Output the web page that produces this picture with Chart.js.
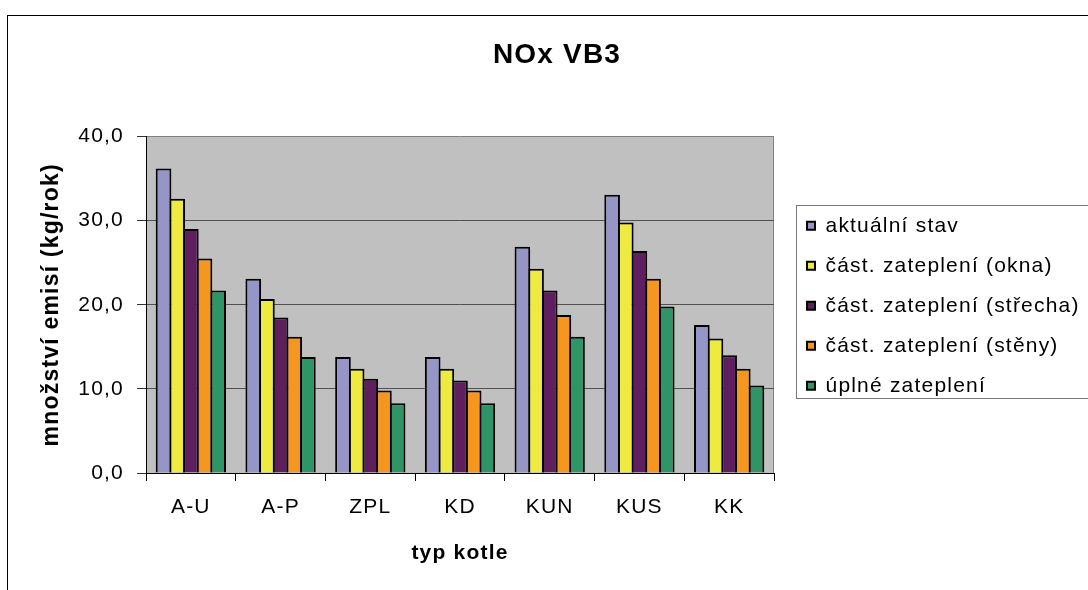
<!DOCTYPE html>
<html>
<head>
<meta charset="utf-8">
<style>
  html, body { margin: 0; padding: 0; background: #fff; }
  canvas { display: block; }
</style>
</head>
<body>
<canvas id="chart" width="1088" height="590"></canvas>
<script src="https://cdn.jsdelivr.net/npm/chart.js"></script>
<script>
// data
const categories = ['A-U', 'A-P', 'ZPL', 'KD', 'KUN', 'KUS', 'KK'];
const seriesNames = ['aktuální stav', 'část. zateplení (okna)', 'část. zateplení (střecha)', 'část. zateplení (stěny)', 'úplné zateplení'];
const aktualniStav = [36.2, 23.1, 13.8, 13.8, 26.9, 33.1, 17.6];
const zatepleniOkna = [32.6, 20.7, 12.4, 12.4, 24.3, 29.8, 16.0];
const zatepleniStrecha = [29.0, 18.5, 11.2, 11.0, 21.7, 26.4, 14.0];
const zatepleniSteny = [25.5, 16.2, 9.8, 9.8, 18.8, 23.1, 12.4];
const uplneZatepleni = [21.7, 13.8, 8.3, 8.3, 16.2, 19.8, 10.4];
const yTickLabels = ['0,0', '10,0', '20,0', '30,0', '40,0'];

const seriesValues = [aktualniStav, zatepleniOkna, zatepleniStrecha, zatepleniSteny, uplneZatepleni];
const seriesColors = ['#9595C8', '#EEEA40', '#5F1F5F', '#F5961F', '#2F9566'];

const FONT = 'Arial, "Liberation Sans", sans-serif';
const LEGEND_W = 340;

// plot background, outer frame, legend frame
const decor = {
    id: 'decor',
    beforeLayout(chart) {
        chart.ctx.letterSpacing = '1.2px';
        const lg = chart.legend;
        if (lg && !lg._fixedW) {
            const orig = lg.fit.bind(lg);
            lg.fit = function () { orig(); this.width = LEGEND_W; };
            lg._fixedW = true;
        }
    },
    afterLayout(chart) {
        const lg = chart.legend;
        lg.left += 14; lg.right += 14;
        lg.top += 1; lg.bottom += 1;
    },
    beforeDraw(chart) {
        const ctx = chart.ctx, a = chart.chartArea;
        ctx.letterSpacing = '1.2px';
        ctx.save();
        ctx.fillStyle = '#fff';
        ctx.fillRect(0, 0, chart.width, chart.height);
        ctx.strokeStyle = '#000';
        ctx.lineWidth = 1;
        ctx.strokeRect(7.5, 15.5, 1200, 700);
        ctx.fillStyle = '#C0C0C0';
        ctx.fillRect(a.left, a.top, a.right - a.left, a.bottom - a.top);
        ctx.strokeStyle = '#808080';
        ctx.beginPath();
        ctx.moveTo(Math.round(a.right) - 0.5, a.top);
        ctx.lineTo(Math.round(a.right) - 0.5, a.bottom);
        ctx.stroke();
        ctx.restore();
    },
    afterDraw(chart) {
        const ctx = chart.ctx, lg = chart.legend;
        const hb = lg.legendHitBoxes;
        if (!hb || !hb.length) return;
        const last = hb[hb.length - 1];
        const top = Math.round(hb[0].top - 10) + 0.5;
        const bottom = Math.round(last.top + last.height + 2) + 0.5;
        const left = Math.round(lg.left + 8) + 0.5;
        ctx.save();
        ctx.strokeStyle = '#777';
        ctx.lineWidth = 1;
        ctx.strokeRect(left, top, 1200, bottom - top);
        ctx.restore();
    }
};

new Chart(document.getElementById('chart'), {
    type: 'bar',
    data: {
        labels: categories,
        datasets: seriesNames.map((name, i) => ({
            label: name,
            data: seriesValues[i],
            backgroundColor: seriesColors[i],
            borderColor: '#000',
            borderWidth: 2,
            // bars overlap by one border width, like the shared edges in the original
            categoryPercentage: 0.761,
            barPercentage: 1.146
        }))
    },
    options: {
        responsive: false,
        animation: false,
        devicePixelRatio: 1,
        layout: { padding: { left: 0, top: 0, right: -26, bottom: 0 } },
        plugins: {
            title: {
                display: true,
                text: 'NOx VB3',
                color: '#000',
                font: { family: FONT, size: 28, weight: 'bold' },
                padding: { top: 38, bottom: 65 }
            },
            legend: {
                position: 'right',
                align: 'center',
                fullSize: false,
                labels: {
                    color: '#000',
                    font: { family: FONT, size: 21 },
                    boxWidth: 8,
                    boxHeight: 8,
                    padding: 19
                }
            },
            tooltip: { enabled: false }
        },
        scales: {
            x: {
                ticks: { color: '#000', font: { family: FONT, size: 21 }, padding: 14, maxRotation: 0, autoSkip: false },
                grid: { drawOnChartArea: false, color: '#000', tickLength: 8 },
                border: { color: '#000', width: 1 },
                title: {
                    display: true,
                    text: 'typ kotle',
                    color: '#000',
                    font: { family: FONT, size: 21, weight: 'bold' },
                    padding: { top: 0, bottom: 24 }
                },
                afterFit: s => { s.height = 117; }
            },
            y: {
                min: 0,
                max: 40,
                ticks: {
                    stepSize: 10,
                    color: '#000',
                    font: { family: FONT, size: 21 },
                    padding: 13,
                    callback: (v, i) => yTickLabels[i]
                },
                grid: {
                    color: c => (c.tick && c.tick.value === 40) ? '#808080' : '#505050',
                    tickColor: '#333',
                    tickLength: 9
                },
                border: { color: '#000', width: 1 },
                title: {
                    display: true,
                    text: 'množství emisí (kg/rok)',
                    color: '#000',
                    font: { family: FONT, size: 23, weight: 'bold' },
                    padding: { top: 38, bottom: 0 }
                },
                afterFit: s => { s.width = 146; }
            }
        }
    },
    plugins: [decor]
});
</script>
</body>
</html>
